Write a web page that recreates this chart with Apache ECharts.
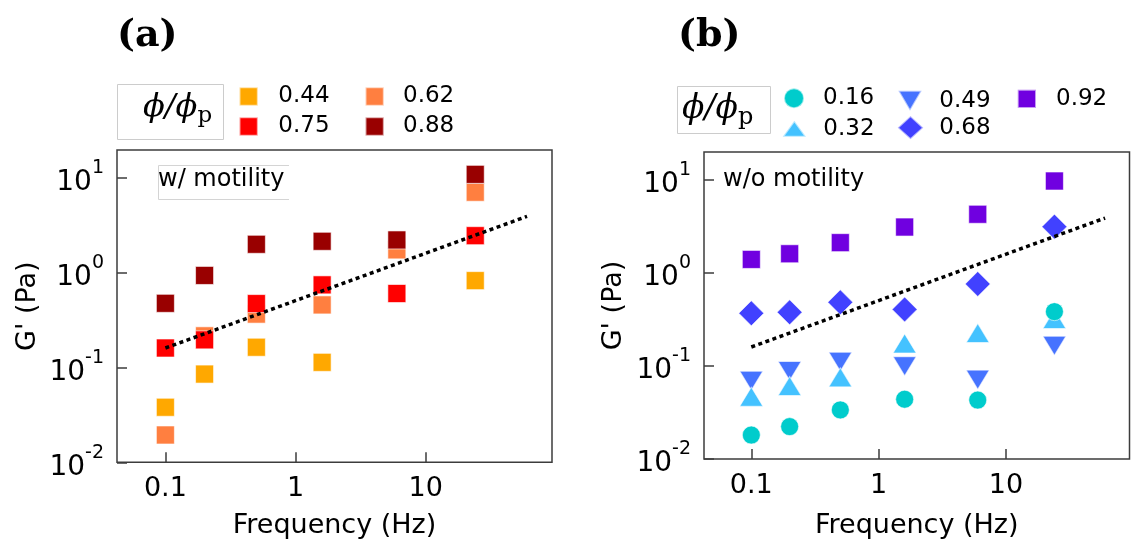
<!DOCTYPE html>
<html><head><meta charset="utf-8">
<script src="https://cdn.jsdelivr.net/npm/echarts@6/dist/echarts.min.js"></script>
<style>html,body{margin:0;padding:0;background:#fff}#c{width:1131px;height:548px}</style>
</head><body><div id="c"></div>
<script>
// ---------- data ----------
const freqs = [0.1, 0.2, 0.5, 1.6, 6, 24];
// panel (a): with motility
const namesA = ['0.44', '0.62', '0.75', '0.88'];
const gA044 = [0.038, 0.085, 0.163, 0.113, null, 0.82];
const gA062 = [0.0194, 0.215, 0.364, 0.455, 1.73, 7.0];
const gA075 = [0.16, 0.195, 0.47, 0.74, 0.60, 2.44];
const gA088 = [0.473, 0.93, 1.98, 2.13, 2.2, 10.8];
// panel (b): without motility
const namesB = ['0.16', '0.32', '0.49', '0.68', '0.92'];
const gB016 = [0.0181, 0.0223, 0.0337, 0.0439, 0.043, 0.384];
const gB032 = [0.0468, 0.061, 0.0755, 0.175, 0.226, 0.32];
const gB049 = [0.0695, 0.0883, 0.111, 0.0993, 0.0713, 0.165];
const gB068 = [0.369, 0.378, 0.484, 0.406, 0.762, 3.15];
const gB092 = [1.40, 1.61, 2.12, 3.12, 4.28, 9.75];
// guide line (slope 1/2)
const fitLine = [[0.1, 0.16], [60, 3.9]];
// ticks
const xTickValues = [0.1, 1, 10];
const xTickLabels = ['0.1', '1', '10'];
const yTickValues = [0.01, 0.1, 1, 10];
const yTickExps = ['-2', '-1', '0', '1'];
const xRange = [0.0425, 93.3];
const yRangeA = [0.01, 19.5];
const yRangeB = [0.01, 20.0];

// ---------- styles ----------
const SANS = '"DejaVu Sans", sans-serif';
const SERIF = '"DejaVu Serif", serif';
const AX = '#3c3c3c';
const colorsA = {'0.44': '#FFA800', '0.62': '#FF7F40', '0.75': '#FF0000', '0.88': '#990000'};
const colorsB = {'0.16': '#00CCCC', '0.32': '#44C2FF', '0.49': '#4673FF', '0.68': '#4141FF', '0.92': '#7000E0'};
const DOWN_TRI = 'path://M0,0L2,0L1,2Z';
const symbols = {'0.44': 'rect', '0.62': 'rect', '0.75': 'rect', '0.88': 'rect',
  '0.16': 'circle', '0.32': 'triangle', '0.49': DOWN_TRI, '0.68': 'diamond', '0.92': 'rect'};
const sizes = {'0.44': 18, '0.62': 18, '0.75': 18, '0.88': 18,
  '0.16': 18, '0.32': [23, 19], '0.49': [23, 19], '0.68': 25, '0.92': 18};

function idxOf(arr, v) {
  for (let i = 0; i < arr.length; i++) {
    if (Math.abs(Math.log10(v) - Math.log10(arr[i])) < 1e-6) return i;
  }
  return -1;
}
const xFmt = v => { const i = idxOf(xTickValues, v); return i < 0 ? '' : xTickLabels[i]; };
const yFmt = v => { const i = idxOf(yTickValues, v); return i < 0 ? '' : '{b|10}{s|' + yTickExps[i] + '}'; };

function xAxisCfg(gi, gap) {
  return {
    type: 'log', logBase: 10, gridIndex: gi, min: xRange[0], max: xRange[1],
    name: 'Frequency (Hz)', nameLocation: 'middle', nameGap: gap,
    nameTextStyle: {fontSize: 27, fontFamily: SANS, color: '#000'},
    axisLine: {show: false},
    axisTick: {show: true, inside: true, length: 10, lineStyle: {color: AX, width: 1.5}},
    axisLabel: {formatter: xFmt, margin: 13, fontSize: 27, fontFamily: SANS, color: '#000',
      showMinLabel: false, showMaxLabel: false},
    splitLine: {show: false}, minorTick: {show: false}
  };
}
function yAxisCfg(gi, range, gap) {
  return {
    type: 'log', logBase: 10, gridIndex: gi, min: range[0], max: range[1],
    name: "G' (Pa)", nameLocation: 'middle', nameGap: gap, nameRotate: 90,
    nameTextStyle: {fontSize: 27, fontFamily: SANS, color: '#000'},
    axisLine: {show: false},
    axisTick: {show: true, inside: true, length: 10, lineStyle: {color: AX, width: 1.5}},
    axisLabel: {formatter: yFmt, margin: 13, color: '#000', showMinLabel: true, showMaxLabel: false,
      rich: {
        b: {fontSize: 28, fontFamily: SANS, color: '#000', lineHeight: 28, verticalAlign: 'bottom'},
        s: {fontSize: 19, fontFamily: SANS, color: '#000', lineHeight: 38, verticalAlign: 'top'}
      }},
    splitLine: {show: false}, minorTick: {show: false}
  };
}
function sc(name, vals, gi, color) {
  const pts = [];
  freqs.forEach((f, i) => { if (vals[i] != null) pts.push([f, vals[i]]); });
  return {
    type: 'scatter', name: name, xAxisIndex: gi, yAxisIndex: gi, data: pts,
    symbol: symbols[name], symbolSize: sizes[name],
    itemStyle: {color: color, borderColor: 'rgba(255,255,255,0.6)', borderWidth: 1, opacity: 1},
    emphasis: {disabled: true}, animation: false
  };
}
function guide(gi) {
  return {type: 'line', xAxisIndex: gi, yAxisIndex: gi, data: fitLine, symbol: 'none', z: 5, silent: true,
    lineStyle: {color: '#000', width: 3.5, type: [4, 3.5]}, animation: false};
}

// legend layout (positions only)
const legendLayout = [
  {name: '0.44', left: 238.5, top: 85, w: 18.3, h: 18.3, pad: 15.5, dy: 0.7},
  {name: '0.62', left: 364.5, top: 85, w: 18.3, h: 18.3, pad: 14.2, dy: 0.7},
  {name: '0.75', left: 238.5, top: 115, w: 18.3, h: 18.3, pad: 15.5, dy: 1},
  {name: '0.88', left: 364.5, top: 115, w: 18.3, h: 18.3, pad: 14.2, dy: 1},
  {name: '0.16', left: 783, top: 86.7, w: 20, h: 20, pad: 14, dy: 0},
  {name: '0.49', left: 897.3, top: 89.3, w: 23.4, h: 20, pad: 12.6, dy: 2.6},
  {name: '0.92', left: 1016.7, top: 87.3, w: 18.3, h: 18.3, pad: 15, dy: 0},
  {name: '0.32', left: 781.7, top: 117.3, w: 23.3, h: 16, pad: 12.3, dy: 0.3},
  {name: '0.68', left: 896.7, top: 115, w: 25.6, h: 23.3, pad: 11, dy: 1.7}
];

const series = [
  sc('0.44', gA044, 0, colorsA['0.44']),
  sc('0.62', gA062, 0, colorsA['0.62']),
  sc('0.75', gA075, 0, colorsA['0.75']),
  sc('0.88', gA088, 0, colorsA['0.88']),
  guide(0),
  sc('0.49', gB049, 1, colorsB['0.49']),
  sc('0.32', gB032, 1, colorsB['0.32']),
  sc('0.16', gB016, 1, colorsB['0.16']),
  sc('0.68', gB068, 1, colorsB['0.68']),
  sc('0.92', gB092, 1, colorsB['0.92']),
  guide(1)
];

const option = {
  backgroundColor: '#fff',
  animation: false,
  grid: [
    {left: 117, right: 579, top: 150, bottom: 85.7, show: true, borderColor: AX, borderWidth: 1.5,
      backgroundColor: 'transparent', containLabel: false, outerBoundsMode: 'none'},
    {left: 704, right: 1.5, top: 152, bottom: 89, show: true, borderColor: AX, borderWidth: 1.5,
      backgroundColor: 'transparent', containLabel: false, outerBoundsMode: 'none'}
  ],
  xAxis: [xAxisCfg(0, 50), xAxisCfg(1, 53)],
  yAxis: [yAxisCfg(0, yRangeA, 76), yAxisCfg(1, yRangeB, 77)],
  legend: legendLayout.map(L => ({
    data: [{name: L.name, icon: symbols[L.name]}],
    left: L.left, top: L.top, padding: 0, itemWidth: L.w, itemHeight: L.h,
    symbolKeepAspect: false, selectedMode: false, orient: 'horizontal',
    textStyle: {fontSize: 23, fontFamily: SANS, color: '#000', lineHeight: 10,
      padding: [0, 0, 2 * L.dy, L.pad]}
  })),
  graphic: [
    {type: 'text', left: 117, top: 17, style: {text: '(a)', font: 'bold 38px ' + SERIF, fill: '#000'}},
    {type: 'text', left: 678, top: 17, style: {text: '(b)', font: 'bold 38px ' + SERIF, fill: '#000'}},
    {type: 'rect', shape: {x: 117.5, y: 84.5, width: 106, height: 55},
      style: {fill: 'none', stroke: '#cccccc', lineWidth: 1}},
    {type: 'rect', shape: {x: 677.5, y: 86.5, width: 93, height: 47},
      style: {fill: 'none', stroke: '#cccccc', lineWidth: 1}},
    {type: 'text', left: 143, top: 92, style: {text: '{m|ϕ/ϕ}{s|p}', fill: '#000',
      rich: {m: {fontSize: 32, fontFamily: SERIF, fontStyle: 'italic', lineHeight: 40, verticalAlign: 'middle'},
             s: {fontSize: 23, fontFamily: SERIF, lineHeight: 40, verticalAlign: 'bottom'}}}},
    {type: 'text', left: 682, top: 93, style: {text: '{m|ϕ/ϕ}{s|p}', fill: '#000',
      rich: {m: {fontSize: 33, fontFamily: SERIF, fontStyle: 'italic', lineHeight: 40, verticalAlign: 'middle'},
             s: {fontSize: 24, fontFamily: SERIF, lineHeight: 40, verticalAlign: 'bottom'}}}},
    {type: 'polyline', shape: {points: [[289, 165.5], [158.5, 165.5], [158.5, 199.5], [289, 199.5]]},
      style: {fill: 'none', stroke: '#d4d4d4', lineWidth: 1}},
    {type: 'text', left: 158, top: 168, style: {text: 'w/ motility', font: '24px ' + SANS, fill: '#000'}},
    {type: 'text', left: 723, top: 168, style: {text: 'w/o motility', font: '24px ' + SANS, fill: '#000'}}
  ],
  series: series
};
const chart = echarts.init(document.getElementById('c'), null, {renderer: 'canvas'});
chart.setOption(option);
</script>
</body></html>
